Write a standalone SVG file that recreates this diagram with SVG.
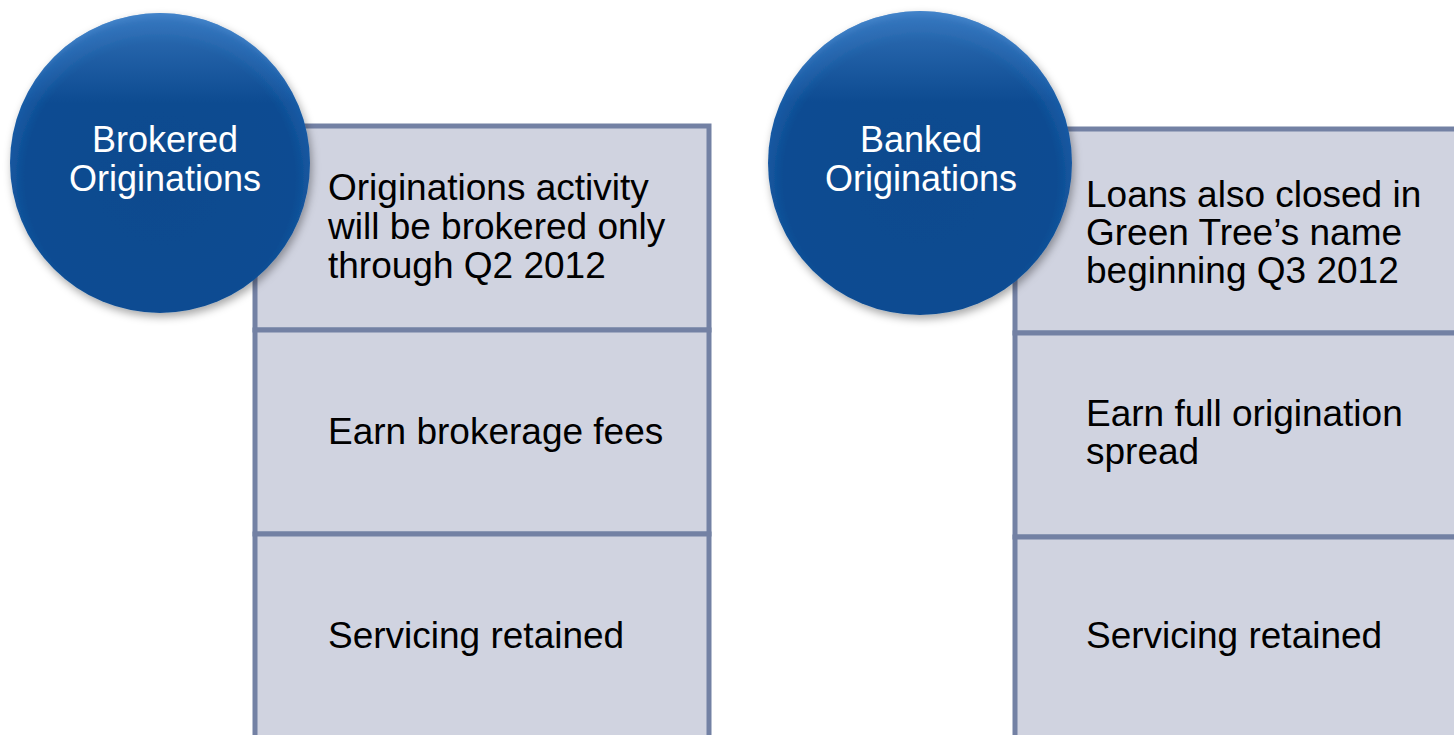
<svg xmlns="http://www.w3.org/2000/svg" width="1454" height="735" viewBox="0 0 1454 735">
<style>
.cell{fill:#d0d3e0;stroke:#7381a4;stroke-width:5}
.ct{font-family:"Liberation Sans",Arial,sans-serif;font-size:37px;fill:#000}
.lt{font-family:"Liberation Sans",Arial,sans-serif;font-size:36px;fill:#fff;text-anchor:middle}
</style>
<defs>
<radialGradient id="bg" cx="0.5" cy="0.55" r="0.55">
<stop offset="0" stop-color="#0b4a8e"/>
<stop offset="0.82" stop-color="#0c4c92"/>
<stop offset="0.95" stop-color="#1a5ca6"/>
<stop offset="1" stop-color="#3a7cc2"/>
</radialGradient>
<linearGradient id="rim" x1="0" y1="0" x2="0" y2="1">
<stop offset="0" stop-color="#4a8ad0" stop-opacity="0.6"/>
<stop offset="0.3" stop-color="#4a8ad0" stop-opacity="0"/>
</linearGradient>
<filter id="sh" x="-20%" y="-20%" width="140%" height="140%">
<feDropShadow dx="2" dy="4" stdDeviation="4" flood-color="#000" flood-opacity="0.35"/>
</filter>
</defs>
<rect width="1454" height="735" fill="#fff"/>
<g id="left-boxes">
<rect class="cell" x="255" y="126" width="454" height="204"/>
<rect class="cell" x="255" y="330" width="454" height="204"/>
<rect class="cell" x="255" y="534" width="454" height="210"/>
<text class="ct" x="328" y="200">Originations activity</text>
<text class="ct" x="328" y="239">will be brokered only</text>
<text class="ct" x="328" y="278">through Q2 2012</text>
<text class="ct" x="328" y="444">Earn brokerage fees</text>
<text class="ct" x="328" y="648">Servicing retained</text>
</g>
<g id="right-boxes">
<rect class="cell" x="1015" y="129" width="445" height="204"/>
<rect class="cell" x="1015" y="333" width="445" height="204"/>
<rect class="cell" x="1015" y="537" width="445" height="210"/>
<text class="ct" x="1086" y="207">Loans also closed in</text>
<text class="ct" x="1086" y="245">Green Tree’s name</text>
<text class="ct" x="1086" y="283">beginning Q3 2012</text>
<text class="ct" x="1086" y="426">Earn full origination</text>
<text class="ct" x="1086" y="464">spread</text>
<text class="ct" x="1086" y="648">Servicing retained</text>
</g>
<g id="brokered">
<circle cx="160" cy="163" r="150" fill="url(#bg)" filter="url(#sh)"/>
<circle cx="160" cy="163" r="150" fill="url(#rim)"/>
<text class="lt" x="165" y="152">Brokered</text>
<text class="lt" x="165" y="191">Originations</text>
</g>
<g id="banked">
<circle cx="920" cy="163" r="152" fill="url(#bg)" filter="url(#sh)"/>
<circle cx="920" cy="163" r="152" fill="url(#rim)"/>
<text class="lt" x="921" y="152">Banked</text>
<text class="lt" x="921" y="191">Originations</text>
</g>
<g id="connectors"/>
</svg>
